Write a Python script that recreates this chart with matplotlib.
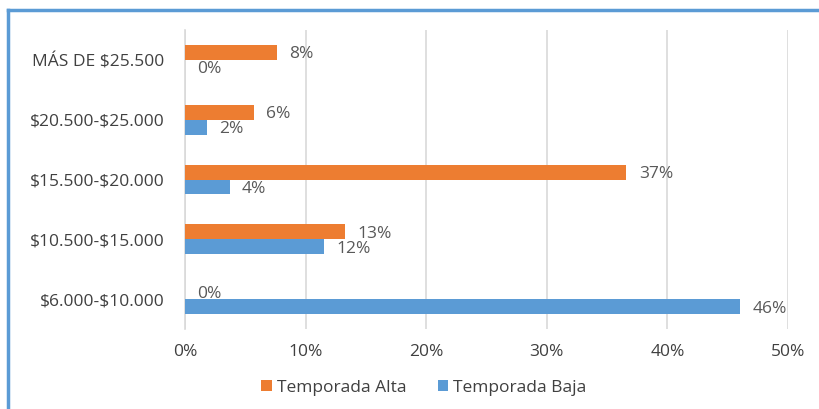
import matplotlib
matplotlib.use("Agg")
import matplotlib.pyplot as plt
from matplotlib.lines import Line2D
import numpy as np

plt.rcParams['font.family'] = ['Open Sans', 'DejaVu Sans']
plt.rcParams['text.parse_math'] = False

categories = ["$6.000-$10.000", "$10.500-$15.000", "$15.500-$20.000",
              "$20.500-$25.000", "MÁS DE $25.500"]
temporada_alta = [0.0, 13.3, 36.6, 5.7, 7.6]
temporada_baja = [46.0, 11.5, 3.7, 1.8, 0.0]
x_ticks = [0, 10, 20, 30, 40, 50]

ORANGE = "#ED7D31"
BLUE = "#5B9BD5"
GRID = "#D9D9D9"
TEXT = "#404040"
LABEL = "#595959"
FS = 12.5

W, H = 819, 409
fig = plt.figure(figsize=(W / 100, H / 100), dpi=100)
ax = fig.add_axes([185 / W, 1 - 329 / H, (788 - 185) / W, (329 - 30) / H])

y = np.arange(len(categories))
h = 0.25
ax.barh(y + h / 2, temporada_alta, height=h, color=ORANGE, label="Temporada Alta", zorder=3)
ax.barh(y - h / 2, temporada_baja, height=h, color=BLUE, label="Temporada Baja", zorder=3)

for yi, v in zip(y + h / 2, temporada_alta):
    ax.annotate(f"{v:.0f}%", (v, yi), xytext=(9, 0), textcoords="offset points",
                ha="left", va="center_baseline", fontsize=FS, color=LABEL)
for yi, v in zip(y - h / 2, temporada_baja):
    ax.annotate(f"{v:.0f}%", (v, yi), xytext=(9, 0), textcoords="offset points",
                ha="left", va="center_baseline", fontsize=FS, color=LABEL)

ax.set_xlim(0, 50)
ax.set_ylim(-0.5, len(categories) - 0.5)
ax.set_xticks(x_ticks)
ax.set_xticklabels([f"{t}%" for t in x_ticks])
ax.set_yticks(y)
ax.set_yticklabels(categories)
ax.tick_params(axis="both", length=0, labelsize=FS, labelcolor=TEXT)
ax.tick_params(axis="y", pad=15)
ax.tick_params(axis="x", pad=10.5)
ax.grid(axis="x", color=GRID, linewidth=1.2, zorder=0)
for s in ["top", "right", "bottom"]:
    ax.spines[s].set_visible(False)
ax.spines["left"].set_color(GRID)
ax.spines["left"].set_linewidth(1.2)

leg = fig.legend(loc="center", bbox_to_anchor=(424 / W, 1 - 388 / H), ncol=2,
                 frameon=False, fontsize=FS, handlelength=0.6, handleheight=0.6,
                 handletextpad=0.3, columnspacing=1.8)
for t in leg.get_texts():
    t.set_color(TEXT)

# outer frame lines
fig.add_artist(Line2D([8 / W, 1], [1 - 10 / H, 1 - 10 / H], transform=fig.transFigure,
                      color=BLUE, linewidth=2.5))
fig.add_artist(Line2D([8 / W, 8 / W], [0, 1 - 10 / H], transform=fig.transFigure,
                      color=BLUE, linewidth=2.5))

fig.savefig("out.png", dpi=100)
